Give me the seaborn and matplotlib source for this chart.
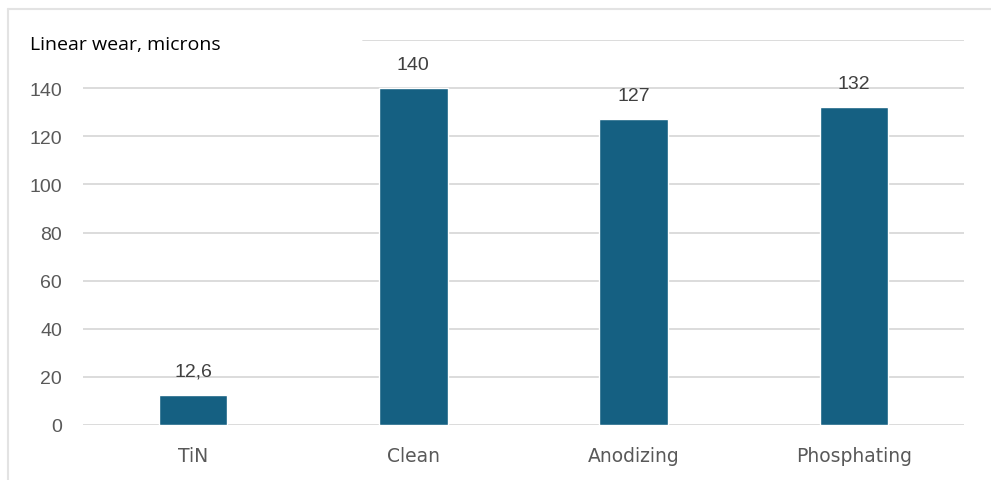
import matplotlib
matplotlib.use("Agg")
import matplotlib.pyplot as plt
import seaborn as sns
import pandas as pd
from matplotlib.lines import Line2D

# data
categories = ["TiN", "Clean", "Anodizing", "Phosphating"]
wear = [12.6, 140, 127, 132]
value_labels = ["12,6", "140", "127", "132"]
y_ticks = [0, 20, 40, 60, 80, 100, 120, 140]

df = pd.DataFrame({"coating": categories, "wear": wear})

sns.set_theme(style="white")
plt.rcParams["font.family"] = ["Liberation Sans", "DejaVu Sans"]

fig = plt.figure(figsize=(9.91, 4.81), dpi=100)
ax = fig.add_axes([83 / 991, 55 / 481, 881 / 991, 385 / 481])

sns.barplot(data=df, x="coating", y="wear", color="#156082", saturation=1,
            width=0.31, ax=ax, zorder=3)

ax.set_ylim(0, 160)
ax.set_xlim(-0.5, 3.5)
ax.set_yticks(y_ticks)
ax.set_yticklabels([str(t) for t in y_ticks])

# gridlines
for t in y_ticks:
    ax.axhline(t, color="#d9d9d9", lw=1.3, zorder=1)
ax.axhline(160, xmin=0.318, color="#d9d9d9", lw=1.3, zorder=1)

for s in ax.spines.values():
    s.set_visible(False)

ax.tick_params(axis="y", length=0, pad=15, labelsize=14, labelcolor="#595959")
ax.tick_params(axis="x", length=0, pad=15, labelsize=13.5, labelcolor="#595959")
for lbl in ax.get_yticklabels():
    lbl.set_family("Liberation Sans")
for lbl in ax.get_xticklabels():
    lbl.set_family("DejaVu Sans")
ax.set_xlabel("")
ax.set_ylabel("")

texts = ax.bar_label(ax.containers[0], labels=value_labels, padding=11,
                     fontsize=14, color="#404040")
for t in texts:
    t.set_family("Liberation Sans")

fig.text(30 / 991, 1 - 45 / 481, "Linear wear, microns", fontsize=14,
         family=["Open Sans", "DejaVu Sans"], color="#000000", va="center")

# outer chart border (left and top edges visible)
fig.add_artist(Line2D([7.5 / 991, 7.5 / 991], [0, 1 - 10 / 481],
                      transform=fig.transFigure, color="#e3e3e3", lw=1.5))
fig.add_artist(Line2D([7.5 / 991, 1], [1 - 10 / 481, 1 - 10 / 481],
                      transform=fig.transFigure, color="#e3e3e3", lw=1.5))

fig.savefig("out.png", dpi=100)
